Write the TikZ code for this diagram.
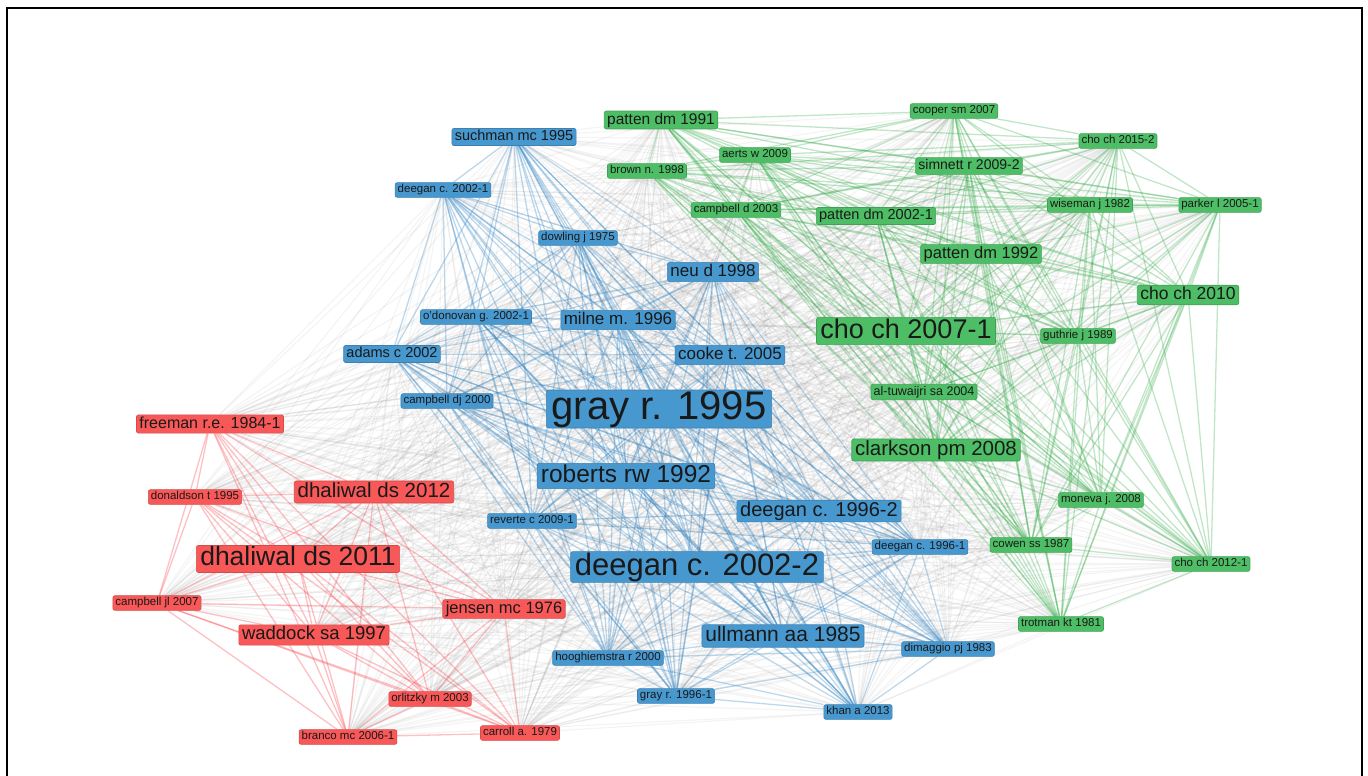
\documentclass[tikz,border=0pt]{standalone}
\usepackage{fontspec}
\setmainfont{Liberation Sans}
\usetikzlibrary{backgrounds}

\definecolor{vblue}{RGB}{72,152,208}
\definecolor{vgreen}{RGB}{78,190,102}
\definecolor{vred}{RGB}{248,88,88}
\definecolor{eblue}{RGB}{40,125,190}
\definecolor{egreen}{RGB}{50,170,70}
\definecolor{ered}{RGB}{250,60,70}

\tikzset{
  item/.style={rounded corners=2pt, text=black!90, line width=0.6pt},
  bl/.style={item, fill=vblue, draw=vblue!85!black},
  gr/.style={item, fill=vgreen, draw=vgreen!85!black},
  rd/.style={item, fill=vred, draw=vred!85!black},
  sz/.style={font=\fontsize{#1}{#1}\selectfont,
    text height={0.72*#1*1pt}, text depth={0.2*#1*1pt},
    inner xsep={(1.5+0.09*#1)*1pt}, inner ysep={max(0.5,2.6-0.05*#1)*1pt}},
  grey edge/.style={draw=black!50, line width=1.2pt, opacity=0.09},
  blue edge/.style={draw=eblue, line width=1.3pt, opacity=0.3},
  green edge/.style={draw=egreen, line width=1.3pt, opacity=0.3},
  red edge/.style={draw=ered, line width=1.3pt, opacity=0.32}
}

\begin{document}
\begin{tikzpicture}[x=1pt, y=-1pt]
  \useasboundingbox (0,0) rectangle (1368,776);
  \draw[line width=2pt] (7,776) -- (7,8) -- (1362,8) -- (1362,776);

  % blue cluster
  \node[bl, sz=14.5] (suchman) at (514,137) {suchman mc 1995};
  \node[bl, sz=11.5] (deeganA) at (443,190) {deegan c. 2002-1};
  \node[bl, sz=11.5] (dowling) at (578,238) {dowling j 1975};
  \node[bl, sz=17] (neu) at (713,272) {neu d 1998};
  \node[bl, sz=11.5] (odonovan) at (476,317) {o'donovan g. 2002-1};
  \node[bl, sz=17] (milne) at (618,320) {milne m. 1996};
  \node[bl, sz=14.5] (adams) at (392,354) {adams c 2002};
  \node[bl, sz=17] (cooke) at (730,355) {cooke t. 2005};
  \node[bl, sz=11.5] (campbelldj) at (447,401) {campbell dj 2000};
  \node[bl, sz=40] (gray) at (659,409) {gray r. 1995};
  \node[bl, sz=24.5] (roberts) at (626,476) {roberts rw 1992};
  \node[bl, sz=20] (deeganB) at (819,511) {deegan c. 1996-2};
  \node[bl, sz=11.5] (reverte) at (532,521) {reverte c 2009-1};
  \node[bl, sz=31] (deeganC) at (697,567) {deegan c. 2002-2};
  \node[bl, sz=11.5] (deeganD) at (920,547) {deegan c. 1996-1};
  \node[bl, sz=21] (ullmann) at (783,636) {ullmann aa 1985};
  \node[bl, sz=11.5] (hoogh) at (608,658) {hooghiemstra r 2000};
  \node[bl, sz=11.5] (dimaggio) at (948,649) {dimaggio pj 1983};
  \node[bl, sz=11.5] (grayB) at (676,696) {gray r. 1996-1};
  \node[bl, sz=11.5] (khan) at (858,712) {khan a 2013};

  % green cluster
  \node[gr, sz=15.5] (pattenA) at (661,120) {patten dm 1991};
  \node[gr, sz=11.5] (cooper) at (954,111) {cooper sm 2007};
  \node[gr, sz=11.5] (aerts) at (755,155) {aerts w 2009};
  \node[gr, sz=11.5] (brown) at (647,171) {brown n. 1998};
  \node[gr, sz=11.5] (campbelld) at (736,210) {campbell d 2003};
  \node[gr, sz=14.5] (pattenB) at (876,216) {patten dm 2002-1};
  \node[gr, sz=14] (simnett) at (969,166) {simnett r 2009-2};
  \node[gr, sz=11.5] (choA) at (1118,141) {cho ch 2015-2};
  \node[gr, sz=11.5] (wiseman) at (1090,205) {wiseman j 1982};
  \node[gr, sz=11.5] (parker) at (1220,205) {parker l 2005-1};
  \node[gr, sz=16.5] (pattenC) at (981,254) {patten dm 1992};
  \node[gr, sz=17.5] (choB) at (1188,295) {cho ch 2010};
  \node[gr, sz=27] (choC) at (906,331) {cho ch 2007-1};
  \node[gr, sz=11.5] (guthrie) at (1078,336) {guthrie j 1989};
  \node[gr, sz=12.5] (altuw) at (924,392) {al-tuwaijri sa 2004};
  \node[gr, sz=20.5] (clarkson) at (936,450) {clarkson pm 2008};
  \node[gr, sz=11.5] (moneva) at (1101,500) {moneva j. 2008};
  \node[gr, sz=11.5] (cowen) at (1031,545) {cowen ss 1987};
  \node[gr, sz=11.5] (choD) at (1211,564) {cho ch 2012-1};
  \node[gr, sz=11.5] (trotman) at (1061,624) {trotman kt 1981};

  % red cluster
  \node[rd, sz=16] (freeman) at (210,424) {freeman r.e. 1984-1};
  \node[rd, sz=11.5] (donaldson) at (195,497) {donaldson t 1995};
  \node[rd, sz=20.5] (dhalA) at (374,492) {dhaliwal ds 2012};
  \node[rd, sz=26.5] (dhalB) at (298,559) {dhaliwal ds 2011};
  \node[rd, sz=11.5] (campbelljl) at (157,603) {campbell jl 2007};
  \node[rd, sz=18.5] (waddock) at (314,635) {waddock sa 1997};
  \node[rd, sz=16.5] (jensen) at (504,609) {jensen mc 1976};
  \node[rd, sz=11.5] (orlitzky) at (430,699) {orlitzky m 2003};
  \node[rd, sz=11.5] (branco) at (348,737) {branco mc 2006-1};
  \node[rd, sz=11.5] (carroll) at (520,733) {carroll a. 1979};

  \def\bluelist{suchman,deeganA,dowling,neu,odonovan,milne,adams,cooke,campbelldj,gray,roberts,deeganB,reverte,deeganC,deeganD,ullmann,hoogh,dimaggio,grayB,khan}
  \def\greenlist{pattenA,cooper,aerts,brown,campbelld,pattenB,simnett,choA,wiseman,parker,pattenC,choB,choC,guthrie,altuw,clarkson,moneva,cowen,choD,trotman}
  \def\redlist{freeman,donaldson,dhalA,dhalB,campbelljl,waddock,jensen,orlitzky,branco,carroll}

  \begin{pgfonlayer}{background}
    % links between clusters
    \foreach \a in \bluelist {
      \foreach \b in \greenlist {\draw[grey edge] (\a) -- (\b);}
      \foreach \b in \redlist {\draw[grey edge] (\a) -- (\b);}
    }
    \foreach \a in \greenlist
      \foreach \b in \redlist {\draw[grey edge] (\a) -- (\b);}
    % links inside clusters
    \foreach \a [count=\i] in \bluelist
      \foreach \b [count=\j] in \bluelist {\ifnum\i<\j \draw[blue edge] (\a) -- (\b);\fi}
    \foreach \a [count=\i] in \greenlist
      \foreach \b [count=\j] in \greenlist {\ifnum\i<\j \draw[green edge] (\a) -- (\b);\fi}
    \foreach \a [count=\i] in \redlist
      \foreach \b [count=\j] in \redlist {\ifnum\i<\j \draw[red edge] (\a) -- (\b);\fi}
  \end{pgfonlayer}
\end{tikzpicture}
\end{document}
